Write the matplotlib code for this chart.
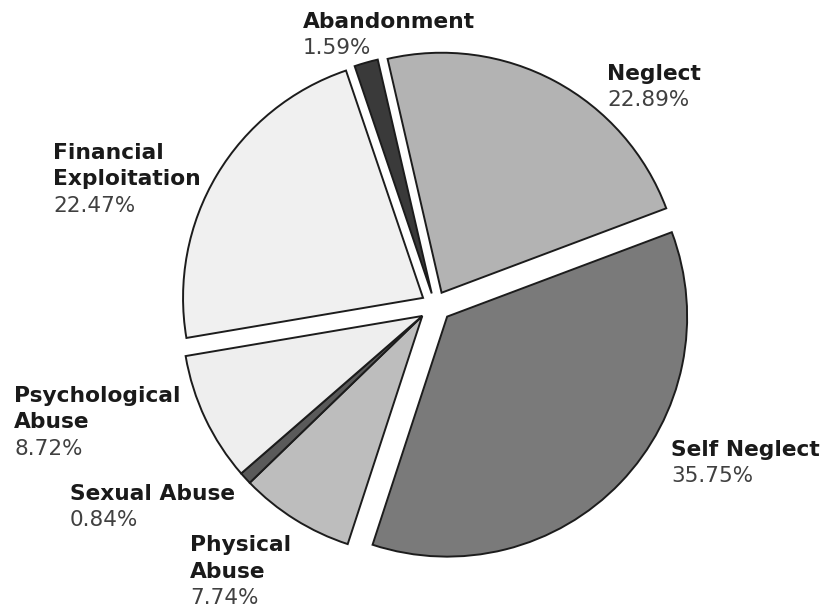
import matplotlib
matplotlib.use("Agg")
import matplotlib.pyplot as plt
import numpy as np

categories = ["Neglect", "Self Neglect", "Physical Abuse", "Sexual Abuse",
              "Psychological Abuse", "Financial Exploitation", "Abandonment"]
values = [22.89, 35.75, 7.74, 0.84, 8.72, 22.47, 1.59]
label_lines = [["Neglect"], ["Self Neglect"], ["Physical", "Abuse"], ["Sexual Abuse"],
               ["Psychological", "Abuse"], ["Financial", "Exploitation"], ["Abandonment"]]

colors = ["#b3b3b3", "#7a7a7a", "#bdbdbd", "#5a5a5a", "#eeeeee", "#f0f0f0", "#3a3a3a"]
explode = [0.058, 0.07, 0.0, 0.0, 0.0, 0.058, 0.05]
group = [2, 3, 4]          # wedges exploded together as one block
group_offset = 0.07

# label anchors (pixels from top-left: x, y of first line centre)
label_pos = [(607, 74), (671, 450), (190, 545), (70, 494), (14, 396), (53, 153), (303, 22)]
line_gap = 26.5

W, H = 822, 609
R = 240.0
cx, cy = 435.0, 305.0

fig = plt.figure(figsize=(W / 100, H / 100), dpi=100)
ax = fig.add_axes([0, 0, 1, 1])

wedges, _ = ax.pie(values, colors=colors, startangle=103, counterclock=False,
                   radius=1.0, explode=explode,
                   wedgeprops=dict(edgecolor="#1c1c1c", linewidth=1.4))

# move grouped wedges by a common offset
t1 = min(min(wedges[i].theta1, wedges[i].theta2) for i in group)
t2 = max(max(wedges[i].theta1, wedges[i].theta2) for i in group)
tm = np.deg2rad(0.5 * (t1 + t2))
for i in group:
    wedges[i].set_center((group_offset * np.cos(tm), group_offset * np.sin(tm)))

ax.set_xlim(-cx / R, (W - cx) / R)
ax.set_ylim(-(H - cy) / R, cy / R)
ax.set_aspect("equal")
ax.axis("off")

for lines, v, (x, y) in zip(label_lines, values, label_pos):
    for k, ln in enumerate(lines):
        fig.text(x / W, 1 - (y + k * line_gap) / H, ln, fontsize=15.7,
                 fontweight="bold", color="#1a1a1a", ha="left", va="center",
                 family="DejaVu Sans")
    fig.text(x / W, 1 - (y + len(lines) * line_gap) / H, f"{v:.2f}%",
             fontsize=15.5, color="#404040", ha="left", va="center",
             family="DejaVu Sans")

fig.savefig("out.png", dpi=100)
